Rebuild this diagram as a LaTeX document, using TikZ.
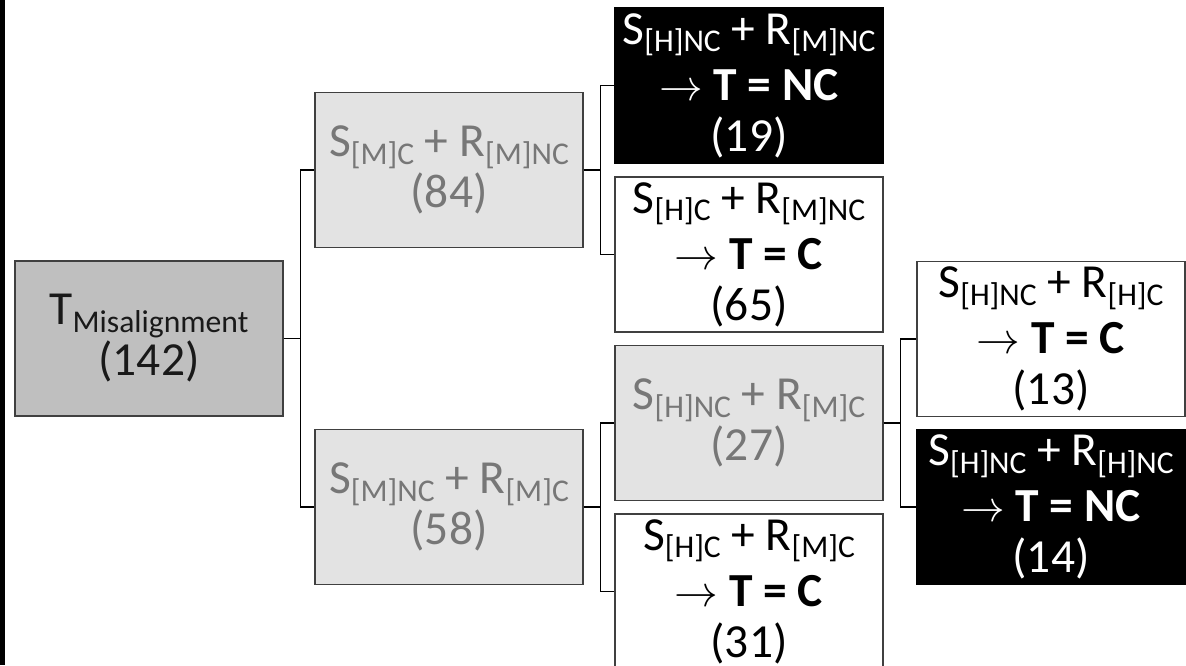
\documentclass[tikz,border=0pt]{standalone}
\usepackage{fontspec}
\setmainfont{Carlito}
\usetikzlibrary{positioning}
\definecolor{rootgrey}{HTML}{BFBFBF}
\definecolor{splitgrey}{HTML}{E3E3E3}
\definecolor{splittext}{HTML}{777777}
\definecolor{framegrey}{HTML}{404040}
% lowered, smaller subscript for the S/R labels
\newcommand{\sub}[1]{\raisebox{-4.5pt}{\fontsize{18}{18}\selectfont #1}}

\begin{document}
\begin{tikzpicture}
[node distance = 6cm,
% STYLES
every node/.style={rectangle, minimum width=5.36cm, minimum height=3.1cm, inner sep=0pt, align=center, font=\fontsize{27}{29}\selectfont},
% the start of the tree
start/.style={draw=framegrey, fill=rootgrey, text=black!90, line width=0.8pt},
% nodes that split further
split/.style={draw=framegrey, fill=splitgrey, text=splittext, line width=0.8pt},
% end results
conform/.style={draw=framegrey, fill=white, text=black, line width=0.8pt},
nonconform/.style={draw=black, fill=black, text=white, line width=0.8pt},
link/.style={draw=black, line width=0.8pt}]

\useasboundingbox (0,0) rectangle (23.72,-13.3);
\fill [black] (0,0) rectangle (0.1,-13.3);

% Draw the tree
\node [start] (root) at (2.98,-6.77) {T\sub{Misalignment}\\(142)};

\node [split, right of=root, yshift=3.37cm] (mc) {S\sub{[M]C} + R\sub{[M]NC}\\(84)};
\node [split, right of=root, yshift=-3.37cm] (mnc) {S\sub{[M]NC} + R\sub{[M]C}\\(58)};

\node [nonconform, right of=mc, yshift=1.69cm] (hncmnc) {S\sub{[H]NC} + R\sub{[M]NC}\\[3pt]$\rightarrow$ \textbf{T = NC}\\(19)};
\node [conform, right of=mc, yshift=-1.69cm] (hcmnc) {S\sub{[H]C} + R\sub{[M]NC}\\[3pt]$\rightarrow$ \textbf{T = C}\\(65)};
\node [split, right of=mnc, yshift=1.68cm] (hncmc) {S\sub{[H]NC} + R\sub{[M]C}\\(27)};
\node [conform, right of=mnc, yshift=-1.69cm] (hcmc) {S\sub{[H]C} + R\sub{[M]C}\\[3pt]$\rightarrow$ \textbf{T = C}\\(31)};

\node [conform, right of=hncmc, xshift=0.04cm, yshift=1.68cm] (hnchc) {S\sub{[H]NC} + R\sub{[H]C}\\[3pt]$\rightarrow$ \textbf{T = C}\\(13)};
\node [nonconform, right of=hncmc, xshift=0.04cm, yshift=-1.68cm] (hnchnc) {S\sub{[H]NC} + R\sub{[H]NC}\\[3pt]$\rightarrow$ \textbf{T = NC}\\(14)};

% Draw the elbow links
\foreach \parent/\child in {root/mc, root/mnc, mc/hncmnc, mc/hcmnc, mnc/hncmc, mnc/hcmc, hncmc/hnchc, hncmc/hnchnc}
  \draw [link] (\parent.east) -- ++(0.33,0) |- (\child.west);

\end{tikzpicture}
\end{document}
